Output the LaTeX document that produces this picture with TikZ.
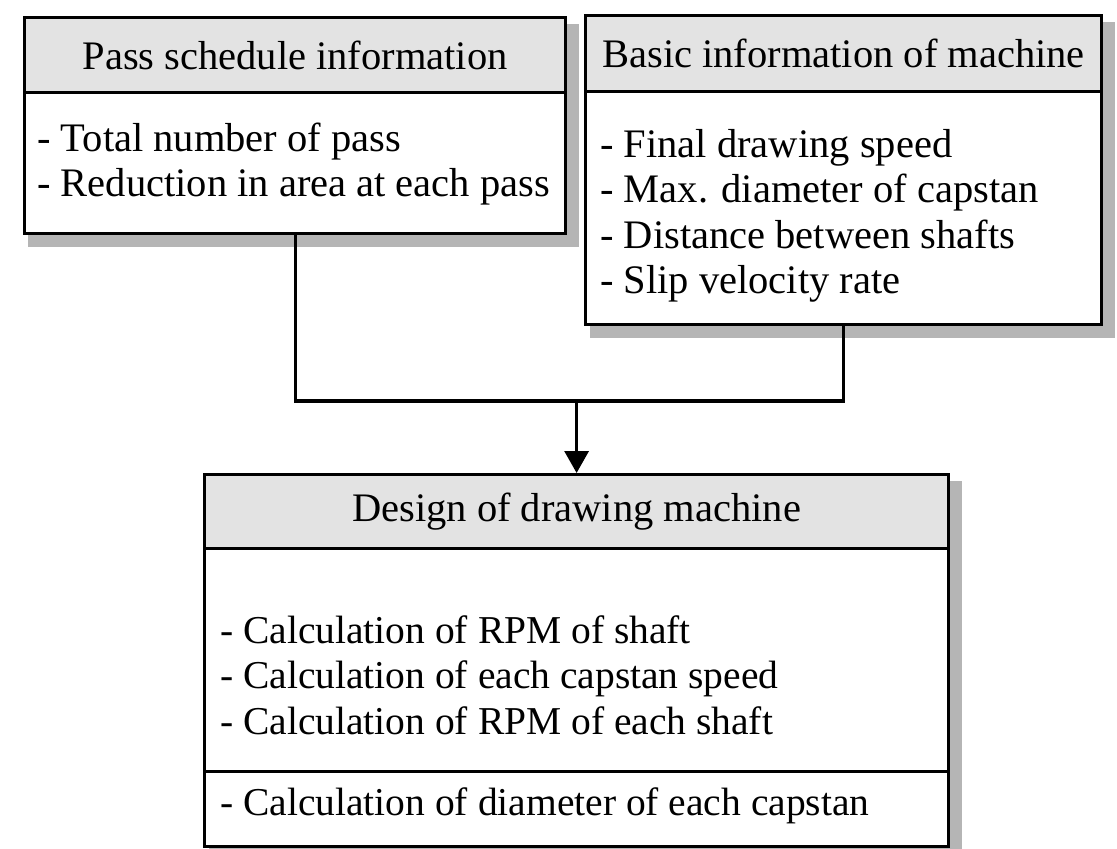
\documentclass[tikz,border=0pt]{standalone}
\usepackage{fontspec}
\setmainfont{Liberation Serif}
\usetikzlibrary{arrows.meta}
\begin{document}
\begin{tikzpicture}[x=1pt,y=-1pt,
  bigfont/.style={font=\fontsize{40.5}{45.5}\selectfont},
  lowfont/.style={font=\fontsize{39.5}{45.5}\selectfont},
  frame/.style={draw=black, line width=3.2pt, fill=white, inner sep=0pt, anchor=north west},
  head/.style={frame, fill=gray!22, bigfont},
  shade/.style={fill=gray!58, draw=none},
  txt/.style={bigfont, align=left, anchor=west, inner sep=0pt},
  lowtxt/.style={txt, lowfont},
  conn/.style={line width=3.2pt}]
\useasboundingbox (0,0) rectangle (1117,849);
% shadows
\fill[shade] (28,24) rectangle (579,247);
\fill[shade] (590,22) rectangle (1115,338);
\fill[shade] (209,481) rectangle (962,860);
% box 1
\node[head, minimum width=541pt, minimum height=75pt] (h1) at (23,16) {Pass schedule information};
\node[frame, minimum width=541pt, minimum height=141pt] (b1) at (23,91) {};
\node[txt] (t1) at (37,164) {- Total number of pass\\- Reduction in area at each pass};
% box 2
\node[head, minimum width=516pt, minimum height=76pt] (h2) at (584,14) {Basic information of machine};
\node[frame, minimum width=516pt, minimum height=233pt] (b2) at (584,90) {};
\node[txt] (t2) at (600,216) {- Final drawing speed\\- Max. diameter of capstan\\- Distance between shafts\\- Slip velocity rate};
% box 3
\node[head, minimum width=744pt, minimum height=74pt] (h3) at (203,473) {Design of drawing machine};
\node[frame, minimum width=744pt, minimum height=223pt] (b3) at (203,547) {};
\node[frame, minimum width=744pt, minimum height=75pt] (b3b) at (203,770) {};
\node[lowtxt] (t3) at (220,675) {- Calculation of RPM of shaft\\- Calculation of each capstan speed\\- Calculation of RPM of each shaft};
\node[lowtxt] (t4) at (220,806) {- Calculation of diameter of each capstan};
% connectors
\coordinate (m) at (h3.north |- 0,401);
\draw[conn] (b1.south) |- (m) -| (b2.south);
\draw[conn, -{Triangle[length=22pt,width=24pt]}] (m) -- (h3.north);
\end{tikzpicture}
\end{document}
